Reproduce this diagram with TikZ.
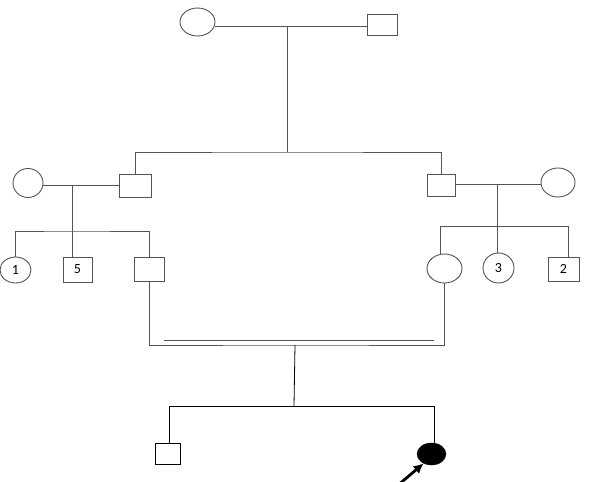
\documentclass[tikz,border=0pt]{standalone}
\usepackage{fontspec}
\setmainfont{Carlito}
\usetikzlibrary{shapes.geometric,arrows.meta}
\definecolor{lg}{gray}{0.33}
\begin{document}
\begin{tikzpicture}[x=1pt,y=-1pt,
  fem/.style={ellipse,draw=lg,line width=0.9pt,inner sep=0pt,font=\fontsize{14}{14}\selectfont},
  mal/.style={rectangle,draw=lg,line width=0.9pt,inner sep=0pt,font=\fontsize{14}{14}\selectfont},
  ln/.style={draw=lg,line width=0.9pt},
  bl/.style={draw=black,line width=0.8pt}]
\useasboundingbox (0,0) rectangle (592,482);
\fill[white] (0,0) rectangle (592,482);
% generation I
\node[fem,minimum width=35pt,minimum height=28pt] (gm) at (197.5,22) {};
\node[mal,minimum width=30pt,minimum height=21pt] (gf) at (382,24.5) {};
% generation II
\node[fem,minimum width=30pt,minimum height=29pt] (lm) at (28,183) {};
\node[mal,minimum width=32pt,minimum height=23pt] (lf) at (135,185.5) {};
\node[mal,minimum width=28pt,minimum height=22pt] (rf) at (441,185) {};
\node[fem,minimum width=34pt,minimum height=29pt] (rw) at (558,182.5) {};
% generation III
\node[fem,minimum width=31pt,minimum height=26pt] (c1) at (15.5,270) {1};
\node[mal,minimum width=29pt,minimum height=25pt] (c5) at (77.5,269.5) {5};
\node[mal,minimum width=30pt,minimum height=24pt] (lh) at (149,269) {};
\node[fem,minimum width=35pt,minimum height=29pt] (rwife) at (444.5,268.5) {};
\node[fem,minimum width=31pt,minimum height=30pt] (c3) at (498.5,268) {3};
\node[mal,minimum width=31pt,minimum height=24pt] (c2) at (563.5,269) {2};
% generation IV
\node[mal,draw=black,minimum width=25pt,minimum height=21pt] (s) at (167.5,453.5) {};
\node[ellipse,draw=black,fill=black,inner sep=0pt,minimum width=29pt,minimum height=22pt] (p) at (431.5,454) {};
% coordinates
\coordinate (m0) at (287,26);
\coordinate (s1) at (287,152);
\coordinate (m1) at (72,185);
\coordinate (s2) at (72,231);
\coordinate (m2) at (497,184);
\coordinate (s3) at (497,226);
\coordinate (a1) at (440,226);
\coordinate (a2) at (568,226);
\coordinate (mq) at (295,345);
\coordinate (d1) at (164,340);
\coordinate (d2) at (434,340);
\coordinate (s4) at (294,406);
\coordinate (e1) at (169,406);
\coordinate (e2) at (434,406);
\coordinate (ar) at (397,486);
% connectors
\draw[ln] (gm.east |- m0) -- (gf.west |- m0);
\draw[ln] (m0) -- (s1);
\draw[ln] (lf.north) |- (s1) -| (rf.north);
\draw[ln] (lm.east |- m1) -- (lf.west |- m1);
\draw[ln] (m1) -- (s2);
\draw[ln] (c1.north) |- (s2) -| (lh.north);
\draw[ln] (s2) -- (s2 |- c5.north);
\draw[ln] (rf.east |- m2) -- (rw.west |- m2);
\draw[ln] (m2) -- (s3);
\draw[ln] (a1) -- (a2);
\draw[ln] (a1) -- (a1 |- rwife.north);
\draw[ln] (a2) -- (a2 |- c2.north);
\draw[ln] (s3) -- (s3 |- c3.north);
\draw[ln] (lh.south) |- (mq) -| (rwife.south);
\draw[ln] (d1) -- (d2);
\draw[bl] (mq) -- (s4);
\draw[bl] (e1) -- (e2);
\draw[bl] (e1) -- (e1 |- s.north);
\draw[bl] (e2) -- (e2 |- p.north);
\draw[black,line width=2.8pt,-{Latex[length=10pt,width=10pt]}] (ar) -- (p.-130);
\end{tikzpicture}
\end{document}
